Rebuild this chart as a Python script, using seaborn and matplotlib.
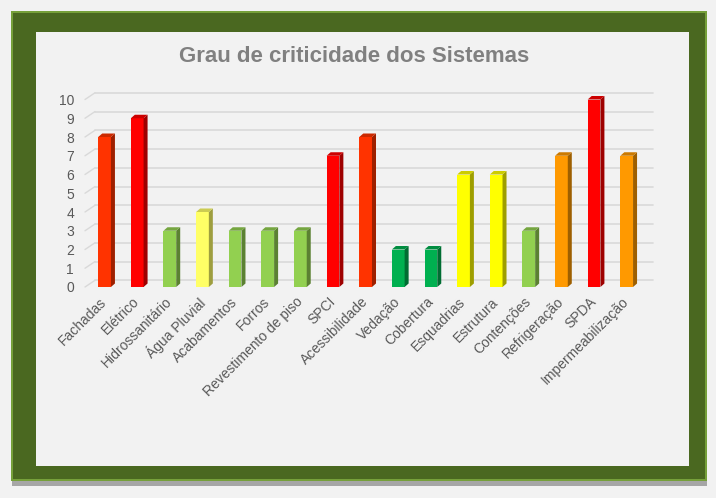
import numpy as np
import pandas as pd
import matplotlib
matplotlib.use("Agg")
import matplotlib.pyplot as plt
import matplotlib.colors as mcolors
import matplotlib.transforms as mtransforms
from matplotlib.patches import Rectangle, Polygon
import seaborn as sns

categories = ["Fachadas", "Elétrico", "Hidrossanitário", "Água Pluvial", "Acabamentos",
              "Forros", "Revestimento de piso", "SPCI", "Acessibilidade", "Vedação",
              "Cobertura", "Esquadrias", "Estrutura", "Contenções", "Refrigeração",
              "SPDA", "Impermeabilização"]
values = [8, 9, 3, 4, 3, 3, 3, 7, 8, 2, 2, 6, 6, 3, 7, 10, 7]
colors = ["#FF3300", "#FF0000", "#92D050", "#FFFF66", "#92D050", "#92D050", "#92D050",
          "#FF0000", "#FF3300", "#00B050", "#00B050", "#FFFF00", "#FFFF00", "#92D050",
          "#FF9900", "#FF0000", "#FF9900"]
yticks = list(range(0, 11))
title = "Grau de criticidade dos Sistemas"

sns.set_theme(style="white")
plt.rcParams["font.family"] = ["Liberation Sans", "DejaVu Sans"]

W, H = 716, 498
fig = plt.figure(figsize=(W / 100, H / 100), dpi=100)
fig.patch.set_facecolor("#F2F2F2")

def frect(x0, y0, x1, y1, color, z):
    # pixel coords (top-left origin) -> figure fraction
    fig.patches.append(Rectangle((x0 / W, 1 - y1 / H), (x1 - x0) / W, (y1 - y0) / H,
                                 transform=fig.transFigure, facecolor=color,
                                 edgecolor="none", zorder=z))

frect(12, 14, 707, 486, "#A6A6A6", 0)
frect(11, 11, 707, 481, "#76A03A", 1)
frect(13, 13, 705, 479, "#4A6820", 2)
frect(36, 32, 689, 466, "#F2F2F2", 3)

ax = fig.add_axes([85 / W, (H - 287) / H, (643 - 85) / W, 187.5 / H])
ax.set_facecolor("none")
ax.set_zorder(5)

df = pd.DataFrame({"cat": categories, "val": values})
sns.barplot(data=df, x="cat", y="val", hue="cat", palette=colors, legend=False,
            width=0.39, saturation=1, ax=ax, zorder=3, linewidth=0, edgecolor="none")

ax.set_xlim(-0.6, 16.5)
ax.set_ylim(0, 10)

# back-wall gridlines with perspective offset
back = mtransforms.ScaledTranslation(10 / 100, 6.7 / 100, fig.dpi_scale_trans)
inv = ax.transData.inverted()
for yv in yticks:
    ax.plot([-0.6, 16.5], [yv, yv], color="#D9D9D9", lw=1.2,
            transform=ax.transData + back, clip_on=False, zorder=1)
    p0 = ax.transData.transform((-0.6, yv))
    p1 = p0 + np.array([10, 6.7])
    q0, q1 = inv.transform(p0), inv.transform(p1)
    ax.plot([q0[0], q1[0]], [q0[1], q1[1]], color="#D9D9D9", lw=1.0,
            clip_on=False, zorder=1)

# 3D side/top faces derived from bar patches
o = inv.transform((0, 0))
d = inv.transform((4, 3.5))
ddx, ddy = d[0] - o[0], d[1] - o[1]
for p in list(ax.patches):
    x0 = p.get_x()
    w = p.get_width()
    h = p.get_height()
    x1 = x0 + w
    fc = np.array(mcolors.to_rgb(p.get_facecolor()))
    side = Polygon([(x1, 0), (x1 + ddx, ddy), (x1 + ddx, h + ddy), (x1, h)],
                   closed=True, facecolor=fc * 0.62, edgecolor="none",
                   clip_on=False, zorder=3)
    top = Polygon([(x0, h), (x0 + ddx, h + ddy), (x1 + ddx, h + ddy), (x1, h)],
                  closed=True, facecolor=fc * 0.8, edgecolor="none",
                  clip_on=False, zorder=3)
    ax.add_patch(side)
    ax.add_patch(top)
    p.set_clip_on(False)

ax.set_yticks(yticks)
ax.set_yticklabels([str(v) for v in yticks], fontsize=10, color="#595959")
ax.set_xticks(range(len(categories)))
ax.set_xticklabels(categories, rotation=45, ha="right", rotation_mode="anchor",
                   fontsize=10, color="#595959")
ax.tick_params(axis="y", length=0, pad=8)
ax.tick_params(axis="x", length=0, pad=7)
shift = mtransforms.ScaledTranslation(-5 / 100, 2 / 100, fig.dpi_scale_trans)
for lab in ax.get_xticklabels():
    lab.set_transform(lab.get_transform() + shift)
ax.set_xlabel("")
ax.set_ylabel("")
for s in ax.spines.values():
    s.set_visible(False)
ax.grid(False)

fig.text(354 / W, 1 - 57 / H, title, ha="center", va="center",
         fontsize=16, fontweight="bold", color="#808080", zorder=10)

fig.savefig("out.png", dpi=100, facecolor=fig.get_facecolor())
